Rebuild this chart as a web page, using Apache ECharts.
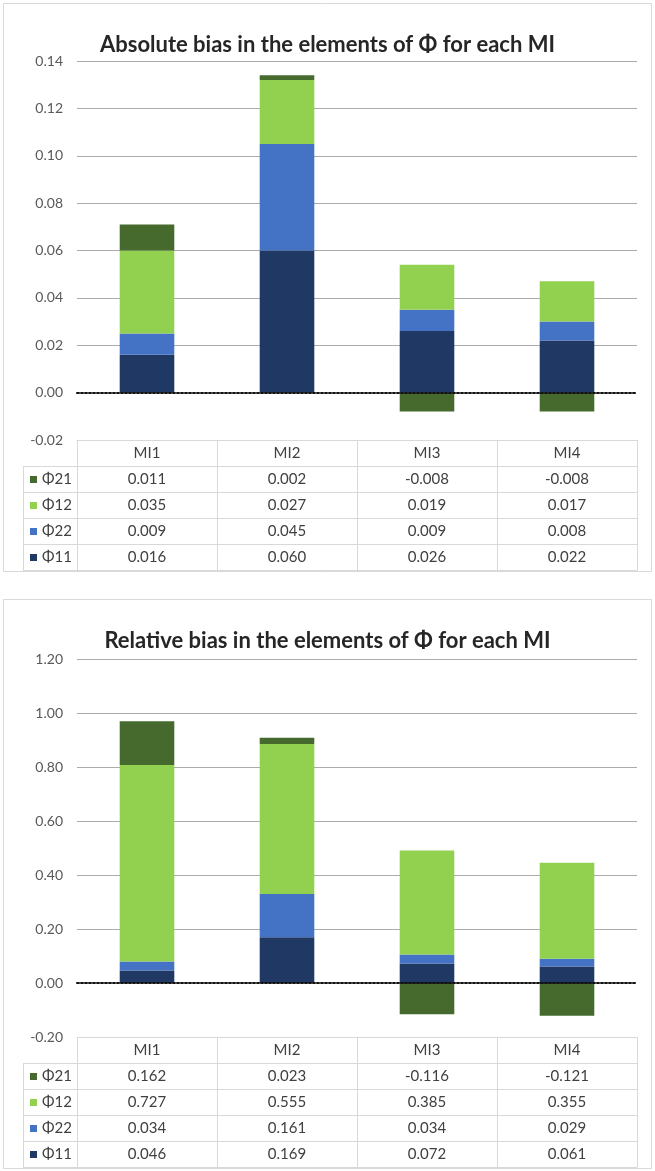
<!DOCTYPE html>
<html><head><meta charset="utf-8">
<script src="https://cdn.jsdelivr.net/npm/echarts@6/dist/echarts.min.js"></script>
<style>html,body{margin:0;padding:0;background:#fff}#c{width:655px;height:1171px}</style>
</head><body><div id="c"></div>
<script>
// ---- data ----
const categories = ['MI1', 'MI2', 'MI3', 'MI4'];
const seriesNames = ['Φ11', 'Φ22', 'Φ12', 'Φ21'];
const absPhi11 = [0.016, 0.060, 0.026, 0.022];
const absPhi22 = [0.009, 0.045, 0.009, 0.008];
const absPhi12 = [0.035, 0.027, 0.019, 0.017];
const absPhi21 = [0.011, 0.002, -0.008, -0.008];
const relPhi11 = [0.046, 0.169, 0.072, 0.061];
const relPhi22 = [0.034, 0.161, 0.034, 0.029];
const relPhi12 = [0.727, 0.555, 0.385, 0.355];
const relPhi21 = [0.162, 0.023, -0.116, -0.121];
const absTicks = { min: -0.02, max: 0.14, interval: 0.02 };
const relTicks = { min: -0.2, max: 1.2, interval: 0.2 };
const titles = ['Absolute bias in the elements of Φ for each MI', 'Relative bias in the elements of Φ for each MI'];

// ---- style / layout ----
const colors = ['#203864', '#4472c4', '#92d050', '#466a2e'];
const FONT = 'Lato, "Noto Sans", sans-serif';
const plotLeft = 77, plotRight = 18;
const ROW = 26;
const TABLE_FS = 15;
const panels = [
  { top: 61, height: 379, frameTop: 3.5, frameH: 568, titleTop: 34, ticks: absTicks, data: [absPhi11, absPhi22, absPhi12, absPhi21] },
  { top: 659, height: 378, frameTop: 599.5, frameH: 569, titleTop: 630, ticks: relTicks, data: [relPhi11, relPhi22, relPhi12, relPhi21] }
];

const grid = [], xAxis = [], yAxis = [], series = [], title = [], graphic = [];
const fmt3 = v => v.toFixed(3);

panels.forEach((p, g) => {
  grid.push({ left: plotLeft, right: plotRight, top: p.top, height: p.height, containLabel: false });
  title.push({
    text: titles[g], left: 'center', top: p.titleTop, padding: 0,
    textStyle: { fontSize: 22, fontWeight: 'bold', color: '#262626', fontFamily: FONT }
  });
  const nLines = Math.round((p.ticks.max - p.ticks.min) / p.ticks.interval) + 1;
  const lineColors = ['rgba(0,0,0,0)', 'rgba(0,0,0,0)'];
  for (let i = 2; i < nLines; i++) lineColors.push('#ababab');
  yAxis.push({
    type: 'value', gridIndex: g, min: p.ticks.min, max: p.ticks.max, interval: p.ticks.interval,
    axisLine: { show: false }, axisTick: { show: false },
    axisLabel: { formatter: v => v.toFixed(2), color: '#595959', fontSize: 14, margin: 14, fontFamily: FONT },
    splitLine: { show: true, lineStyle: { color: lineColors, width: 1 } }
  });
  // zero line axis (bars attach to it)
  const zeroIdx = xAxis.length;
  xAxis.push({
    type: 'category', gridIndex: g, data: categories, position: 'bottom', z: 10,
    axisLine: { onZero: true, lineStyle: { color: '#111', width: 2, type: [2, 2] } },
    axisTick: { show: false }, axisLabel: { show: false }, splitLine: { show: false }
  });
  // header row
  xAxis.push({
    type: 'category', gridIndex: g, data: categories, position: 'bottom', offset: 0,
    axisLine: { onZero: false, lineStyle: { color: '#d9d9d9' } },
    axisTick: { show: true, length: ROW, interval: 0, lineStyle: { color: '#d9d9d9' } },
    axisLabel: { margin: ROW / 2 + 0.5, verticalAlign: 'middle', fontSize: TABLE_FS, color: '#404040', fontFamily: FONT, interval: 0 },
    splitLine: { show: false }
  });
  // value rows: Φ21, Φ12, Φ22, Φ11
  const rowOrder = [3, 2, 1, 0];
  rowOrder.forEach((si, r) => {
    const arr = p.data[si];
    xAxis.push({
      type: 'category', gridIndex: g, data: categories, position: 'bottom', offset: ROW * (r + 1),
      axisLine: { onZero: false, lineStyle: { color: '#d9d9d9' } },
      axisTick: { show: true, length: ROW, interval: 0, lineStyle: { color: '#d9d9d9' } },
      axisLabel: { margin: ROW / 2 + 0.5, verticalAlign: 'middle', fontSize: TABLE_FS, color: '#404040', fontFamily: FONT, interval: 0,
        formatter: (v, idx) => fmt3(arr[idx]) },
      splitLine: { show: false }
    });
  });
  // closing line
  xAxis.push({
    type: 'category', gridIndex: g, data: categories, position: 'bottom', offset: ROW * 5,
    axisLine: { onZero: false, lineStyle: { color: '#d9d9d9' } },
    axisTick: { show: false }, axisLabel: { show: false }, splitLine: { show: false }
  });

  seriesNames.forEach((nm, si) => {
    series.push({
      type: 'bar', name: nm, xAxisIndex: zeroIdx, yAxisIndex: g, stack: 'st' + g,
      data: p.data[si], barWidth: '39%', itemStyle: { color: colors[si] }
    });
  });

  // frame
  graphic.push({ type: 'rect', shape: { x: 3.5, y: p.frameTop, width: 648, height: p.frameH },
    style: { fill: 'none', stroke: '#d9d9d9', lineWidth: 1 }, z: -1 });
  // legend column
  const tableTop = p.top + p.height;
  const lx = 23.5, rx = plotLeft;
  for (let r = 1; r <= 5; r++) {
    graphic.push({ type: 'line', shape: { x1: lx, y1: tableTop + ROW * r + 0.5, x2: rx, y2: tableTop + ROW * r + 0.5 },
      style: { stroke: '#d9d9d9', lineWidth: 1 } });
  }
  graphic.push({ type: 'line', shape: { x1: lx, y1: tableTop + ROW, x2: lx, y2: tableTop + ROW * 5 + 1 },
    style: { stroke: '#d9d9d9', lineWidth: 1 } });
  rowOrder.forEach((si, r) => {
    const cy = tableTop + ROW * (r + 1) + ROW / 2 + 0.5;
    graphic.push({ type: 'rect', shape: { x: 30, y: cy - 3.5, width: 7, height: 7 }, style: { fill: colors[si] } });
    graphic.push({ type: 'text', x: 42, y: cy, style: { text: seriesNames[si], fill: '#404040',
      font: TABLE_FS + 'px ' + FONT, verticalAlign: 'middle', align: 'left' } });
  });
});

const chart = echarts.init(document.getElementById('c'), null, { renderer: 'canvas' });
chart.setOption({ animation: false, backgroundColor: '#fff', title, grid, xAxis, yAxis, series, graphic });
</script>
</body></html>
